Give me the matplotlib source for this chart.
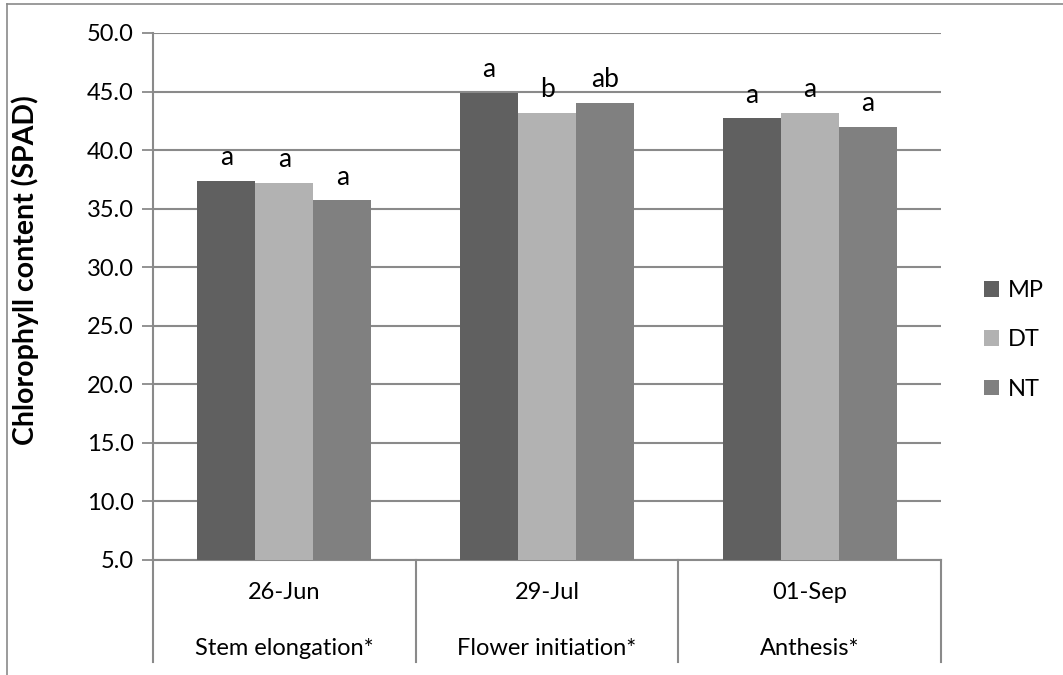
import numpy as np
import matplotlib
matplotlib.use("Agg")
import matplotlib.pyplot as plt
from matplotlib.lines import Line2D
from matplotlib.transforms import blended_transform_factory

plt.rcParams['font.family'] = ['Lato', 'DejaVu Sans']

# data
dates = ['26-Jun', '29-Jul', '01-Sep']
stages = ['Stem elongation*', 'Flower initiation*', 'Anthesis*']
treatments = ['MP', 'DT', 'NT']
mp = [37.4, 44.85, 42.7]
dt = [37.2, 43.2, 43.15]
nt = [35.7, 44.0, 42.0]
letters_mp = ['a', 'a', 'a']
letters_dt = ['a', 'b', 'a']
letters_nt = ['a', 'ab', 'a']

colors = ['#606060', '#b2b2b2', '#808080']
grid_col = '#8a8a8a'

fig = plt.figure(figsize=(10.63, 6.75), dpi=100)
ax = fig.add_axes([153 / 1063, 1 - 560 / 675, (941 - 153) / 1063, (560 - 33) / 675])

x = np.arange(len(dates))
w = 0.221
series = [mp, dt, nt]
letters = [letters_mp, letters_dt, letters_nt]
bars = []
for i, (vals, col) in enumerate(zip(series, colors)):
    b = ax.bar(x + (i - 1) * w, vals, width=w, color=col, zorder=3)
    bars.append(b)
    for xi, v, lab in zip(x + (i - 1) * w, vals, letters[i]):
        ax.text(xi, v + 2.0, lab, ha='center', va='center', fontsize=19, zorder=4)

ax.set_ylim(5, 50)
ax.set_xlim(-0.5, 2.5)
ax.set_yticks(np.arange(5, 50.1, 5))
ax.set_yticklabels(['%.1f' % t for t in np.arange(5, 50.1, 5)], fontsize=17)
ax.set_xticks([])
ax.yaxis.grid(True, color=grid_col, lw=1.5, zorder=0)
ax.tick_params(axis='y', length=8, width=1.3, color=grid_col, pad=6)
for s in ['top', 'right']:
    ax.spines[s].set_visible(False)
for s in ['left', 'bottom']:
    ax.spines[s].set_color(grid_col)
    ax.spines[s].set_linewidth(1.5)

# two-level category axis
tr = blended_transform_factory(ax.transData, ax.transAxes)
for xs in np.arange(-0.5, 2.6, 1.0):
    ax.plot([xs, xs], [0, -0.194], transform=tr, color=grid_col, lw=1.5, clip_on=False)
for xi, d, st in zip(x, dates, stages):
    ax.text(xi, -0.062, d, transform=tr, ha='center', va='center', fontsize=17)
    ax.text(xi, -0.167, st, transform=tr, ha='center', va='center', fontsize=17)

fig.text(25 / 1063, 1 - 270 / 675, 'Chlorophyll content (SPAD)', rotation=90,
         ha='center', va='center', fontsize=20.5, fontweight='bold')

leg = fig.legend([b[0] for b in bars], treatments, loc='center left',
                 bbox_to_anchor=(984 / 1063, 1 - 340 / 675), frameon=False,
                 fontsize=17, handlelength=0.65, handleheight=0.65,
                 handletextpad=0.35, labelspacing=1.2, borderpad=0,
                 borderaxespad=0)

# outer chart frame
fig.add_artist(Line2D([7 / 1063, 1], [1 - 4 / 675, 1 - 4 / 675], color=grid_col, lw=1.2))
fig.add_artist(Line2D([7 / 1063, 7 / 1063], [0, 1 - 4 / 675], color=grid_col, lw=1.2))

fig.savefig('out.png', dpi=100)
